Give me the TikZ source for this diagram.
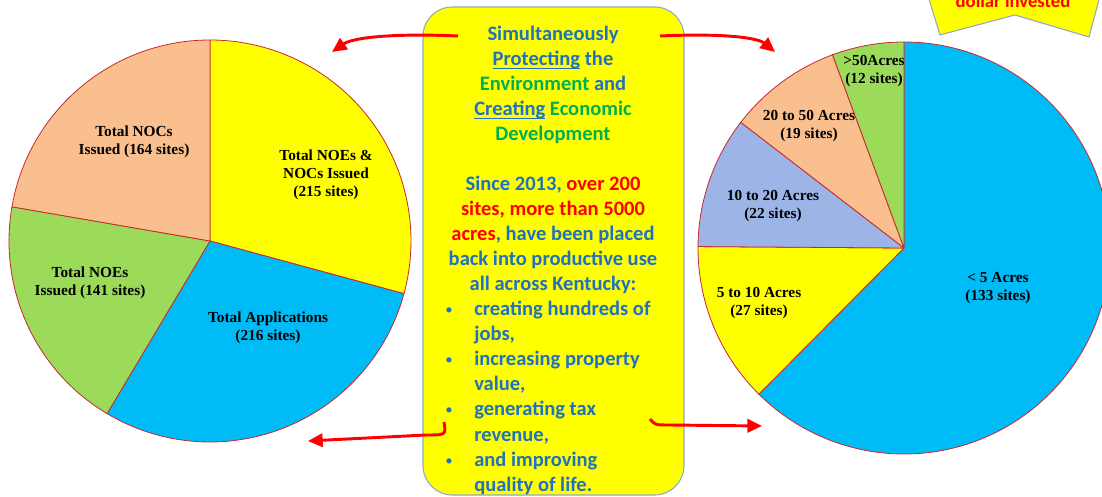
\documentclass[tikz,border=0pt]{standalone}
\usepackage{fontspec}
\setmainfont{Liberation Serif}
\newfontfamily\calib{Carlito}
\usetikzlibrary{arrows.meta}
\definecolor{pyel}{HTML}{FFFF00}
\definecolor{pblue}{HTML}{00BCF6}
\definecolor{pgreen}{HTML}{9CDA5A}
\definecolor{ppeach}{HTML}{FABF8F}
\definecolor{plav}{HTML}{9DB4E6}
\definecolor{txtblue}{HTML}{1E72BE}
\definecolor{txtgreen}{HTML}{00B050}
\definecolor{txtred}{HTML}{FF0000}
\definecolor{edge}{HTML}{C8282E}
\definecolor{boxedge}{HTML}{8FA8C8}
\newcommand\myul[1]{\setbox0\hbox{#1}\rlap{\rule[-2.6pt]{\wd0}{0.9pt}}\box0\relax}
\begin{document}
\begin{tikzpicture}[x=0.75pt,y=0.75pt,
  slice/.style={draw=edge, line width=0.6pt, line join=round},
  plabel/.style={font=\fontsize{11.5}{13.5}\selectfont\bfseries, align=center, text=black, inner sep=0pt},
  boxline/.style={font=\calib\fontsize{15.4}{18.75}\selectfont\bfseries, text=txtblue, inner sep=0pt, anchor=base},
  bulline/.style={boxline, anchor=base west},
  bulletdot/.style={boxline, font=\calib\fontsize{11}{12}\selectfont},
  redarrow/.style={draw=txtred, line width=2.2pt, -{Triangle[length=11pt,width=10pt]}}]
\useasboundingbox (0,0) rectangle (1102,496);
\fill[white] (0,0) rectangle (1102,496);
\clip (0,0) rectangle (1102,496);

% ---------- left pie ----------
\coordinate (L) at (210,255);
\draw[slice, fill=pyel]   (L) -- ++(90:201)    arc[start angle=90,    end angle=-15.2,  radius=201] -- cycle;
\draw[slice, fill=pblue]  (L) -- ++(-15.2:201) arc[start angle=-15.2, end angle=-120.8, radius=201] -- cycle;
\draw[slice, fill=pgreen] (L) -- ++(-120.8:201) arc[start angle=-120.8, end angle=-189.8, radius=201] -- cycle;
\draw[slice, fill=ppeach] (L) -- ++(170.2:201) arc[start angle=170.2, end angle=90, radius=201] -- cycle;
\node[plabel] (lnoc) at (134,354) {Total NOCs\\Issued (164 sites)};
\node[plabel] (lboth) at (326,321) {Total NOEs \&\\NOCs Issued\\(215 sites)};
\node[plabel] (lnoe) at (90,213) {Total NOEs\\Issued (141 sites)};
\node[plabel] (lapp) at (268,168) {Total Applications\\(216 sites)};

% ---------- right pie ----------
\coordinate (R) at (904,248);
\draw[slice, fill=pblue]  (R) -- ++(90:206)     arc[start angle=90,     end angle=-134.8, radius=206] -- cycle;
\draw[slice, fill=pyel]   (R) -- ++(-134.8:206) arc[start angle=-134.8, end angle=-180.4, radius=206] -- cycle;
\draw[slice, fill=plav]   (R) -- ++(179.6:206)  arc[start angle=179.6,  end angle=142.4,  radius=206] -- cycle;
\draw[slice, fill=ppeach] (R) -- ++(142.4:206)  arc[start angle=142.4,  end angle=110.3,  radius=206] -- cycle;
\draw[slice, fill=pgreen] (R) -- ++(110.3:206)  arc[start angle=110.3,  end angle=90,     radius=206] -- cycle;
\node[plabel] (r50) at (874,425) {>50Acres\\(12 sites)};
\node[plabel] (r20) at (809,370) {20 to 50 Acres\\(19 sites)};
\node[plabel] (r10) at (773,290) {10 to 20 Acres\\(22 sites)};
\node[plabel] (r5) at (759,193) {5 to 10 Acres\\(27 sites)};
\node[plabel] (r0) at (998,208) {< 5 Acres\\(133 sites)};

% ---------- top-right banner ----------
\draw[fill=pyel, draw=boxedge, line width=0.8pt] (928,500) -- (940,461) -- (1015,481) -- (1089,459) -- (1100,500);
\node[font=\calib\fontsize{14}{16}\selectfont\bfseries, text=txtred, anchor=base, inner sep=0pt] (inv) at (1013,488) {dollar invested};

% ---------- centre box ----------
\node[draw=boxedge, line width=0.8pt, fill=pyel, rounded corners=22pt, minimum width=195.75pt, minimum height=366pt, inner sep=0pt] (box) at (553.5,245) {};
\node[boxline] (t0) at (553,455) {Simultaneously};
\node[boxline] (t1) at (553,430) {\myul{Protecting} the};
\node[boxline] (t2) at (553,405) {\textcolor{txtgreen}{Environment} and};
\node[boxline] (t3) at (553,380) {\myul{Creating} \textcolor{txtgreen}{Economic}};
\node[boxline, text=txtgreen] (t4) at (553,355) {Development};
\node[boxline] (t6) at (553,305) {Since 2013, \textcolor{txtred}{over 200}};
\node[boxline, text=txtred] (t7) at (553,280) {sites, more than 5000};
\node[boxline] (t8) at (553,255) {\textcolor{txtred}{acres}, have been placed};
\node[boxline] (t9) at (553,230) {back into productive use};
\node[boxline] (t10) at (553,205) {all across Kentucky:};
\node[bulletdot] (b1) at (449,181) {\textbullet};
\node[bulletdot] (b2) at (449,131) {\textbullet};
\node[bulletdot] (b3) at (449,81) {\textbullet};
\node[bulletdot] (b4) at (449,31) {\textbullet};
\node[bulline] (t11) at (474,180) {creating hundreds of};
\node[bulline] (t12) at (474,155) {jobs,};
\node[bulline] (t13) at (474,130) {increasing property};
\node[bulline] (t14) at (474,105) {value,};
\node[bulline] (t15) at (474,80) {generating tax};
\node[bulline] (t16) at (474,55) {revenue,};
\node[bulline] (t17) at (474,30) {and improving};
\node[bulline] (t18) at (474,5) {quality of life.};

% ---------- arrows ----------
\coordinate (a1s) at (458,460); \coordinate (a1e) at (332,444);
\coordinate (a2s) at (660,460); \coordinate (a2e) at (775,444);
\coordinate (a3s) at (444,74);  \coordinate (a3e) at (308,55);
\coordinate (a4s) at (650,77);  \coordinate (a4e) at (762,70);
\draw[redarrow] (a1s) .. controls (390,463) and (352,458) .. (a1e);
\draw[redarrow] (a2s) .. controls (725,463) and (758,458) .. (a2e);
\draw[redarrow] (a3s) .. controls (446,61) .. (426,61) -- (a3e);
\draw[redarrow] (a4s) .. controls (655,71) .. (670,71) -- (a4e);
\end{tikzpicture}
\end{document}
